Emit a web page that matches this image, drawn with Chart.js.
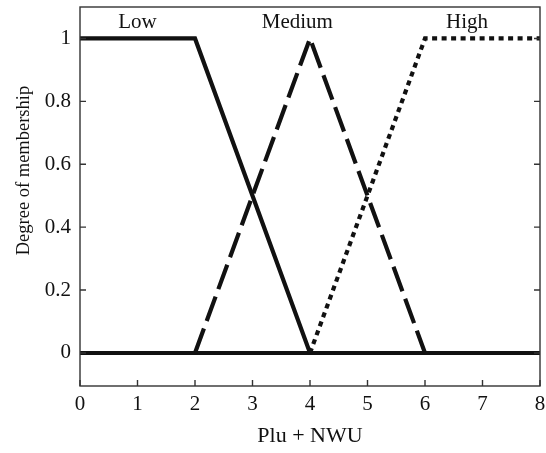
<!DOCTYPE html>
<html>
<head>
<meta charset="utf-8">
<script src="https://cdn.jsdelivr.net/npm/chart.js@4.4.1/dist/chart.umd.min.js"></script>
<style>
  html, body { margin: 0; padding: 0; background: #fff; }
  #wrap { width: 546px; height: 453px; }
</style>
</head>
<body>
<div id="wrap"><canvas id="chart"></canvas></div>
<script>
// ===== DATA =====
const xValues = [0, 2, 4, 6, 8];
const lowValues = [1, 1, 0, 0, 0];
const mediumValues = [null, 0, 1, 0, null];
const highValues = [null, null, 0, 1, 1];
const zeroValues = [0, 0, 0, 0, 0];
const yTicks = [0, 0.2, 0.4, 0.6, 0.8, 1];
const xTicks = [0, 1, 2, 3, 4, 5, 6, 7, 8];
const setNames = ['Low', 'Medium', 'High'];
const setLabelX = [1.0, 3.78, 6.73];
const setLabelY = 1.05;
const yTitle = 'Degree of membership';
const yTitleAt = 0.58; // value on y axis where the title is centred

const INK = '#111';
const FONT = 'Liberation Serif';

const toPoints = (ys) => xValues.map((x, i) => ({ x, y: ys[i] }));

// inward ticks, box frame, set names, y title
const framePlugin = {
  id: 'frame',
  afterDatasetsDraw(chart) {
    const { ctx, chartArea: a, scales: { x, y } } = chart;
    ctx.save();
    ctx.strokeStyle = '#333';
    ctx.lineWidth = 1.4;
    ctx.strokeRect(a.left, a.top, a.right - a.left, a.bottom - a.top);
    ctx.beginPath();
    xTicks.forEach((v) => {
      const px = x.getPixelForValue(v);
      ctx.moveTo(px, a.bottom);
      ctx.lineTo(px, a.bottom - 6);
    });
    yTicks.forEach((v) => {
      const py = y.getPixelForValue(v);
      ctx.moveTo(a.left, py);
      ctx.lineTo(a.left + 6, py);
      ctx.moveTo(a.right, py);
      ctx.lineTo(a.right - 6, py);
    });
    ctx.stroke();

    ctx.fillStyle = INK;
    ctx.font = `21px "${FONT}"`;
    ctx.textAlign = 'center';
    ctx.textBaseline = 'middle';
    setNames.forEach((name, i) => {
      ctx.fillText(name, x.getPixelForValue(setLabelX[i]), y.getPixelForValue(setLabelY));
    });

    ctx.font = `18.5px "${FONT}"`;
    ctx.translate(24, y.getPixelForValue(yTitleAt));
    ctx.rotate(-Math.PI / 2);
    ctx.fillText(yTitle, 0, 0);
    ctx.restore();
  },
};

const lineStyle = {
  borderColor: INK,
  borderWidth: 4.2,
  pointRadius: 0,
  tension: 0,
  fill: false,
  spanGaps: false,
};

new Chart(document.getElementById('chart'), {
  type: 'line',
  data: {
    datasets: [
      { ...lineStyle, label: 'High', data: toPoints(highValues), borderDash: [5, 4.5] },
      { ...lineStyle, label: 'Medium', data: toPoints(mediumValues), borderDash: [26, 8] },
      { ...lineStyle, label: 'Low', data: toPoints(lowValues) },
      { ...lineStyle, label: 'Zero', data: toPoints(zeroValues) },
    ],
  },
  options: {
    responsive: true,
    maintainAspectRatio: false,
    animation: false,
    layout: { padding: { left: 0, right: 6, top: 7, bottom: 0 } },
    plugins: { legend: { display: false }, tooltip: { enabled: false } },
    scales: {
      x: {
        type: 'linear',
        min: 0,
        max: 8,
        grid: { display: false, drawTicks: false },
        border: { display: false },
        afterBuildTicks: (s) => { s.ticks = xTicks.map((v) => ({ value: v })); },
        afterFit: (s) => { s.height = 67; s.paddingLeft = 0; s.paddingRight = 0; },
        ticks: { color: INK, font: { family: FONT, size: 21 }, padding: 6, maxRotation: 0 },
        title: { display: true, text: 'Plu + NWU', color: INK, font: { family: FONT, size: 22 }, padding: { top: 8 } },
      },
      y: {
        min: -0.105,
        max: 1.1,
        grid: { display: false, drawTicks: false },
        border: { display: false },
        afterBuildTicks: (s) => { s.ticks = yTicks.map((v) => ({ value: v })); },
        afterFit: (s) => { s.width = 80; s.paddingTop = 0; s.paddingBottom = 0; },
        ticks: { color: INK, font: { family: FONT, size: 21 }, padding: 9, callback: (v) => String(v) },
        title: { display: false },
      },
    },
  },
  plugins: [framePlugin],
});
</script>
</body>
</html>
